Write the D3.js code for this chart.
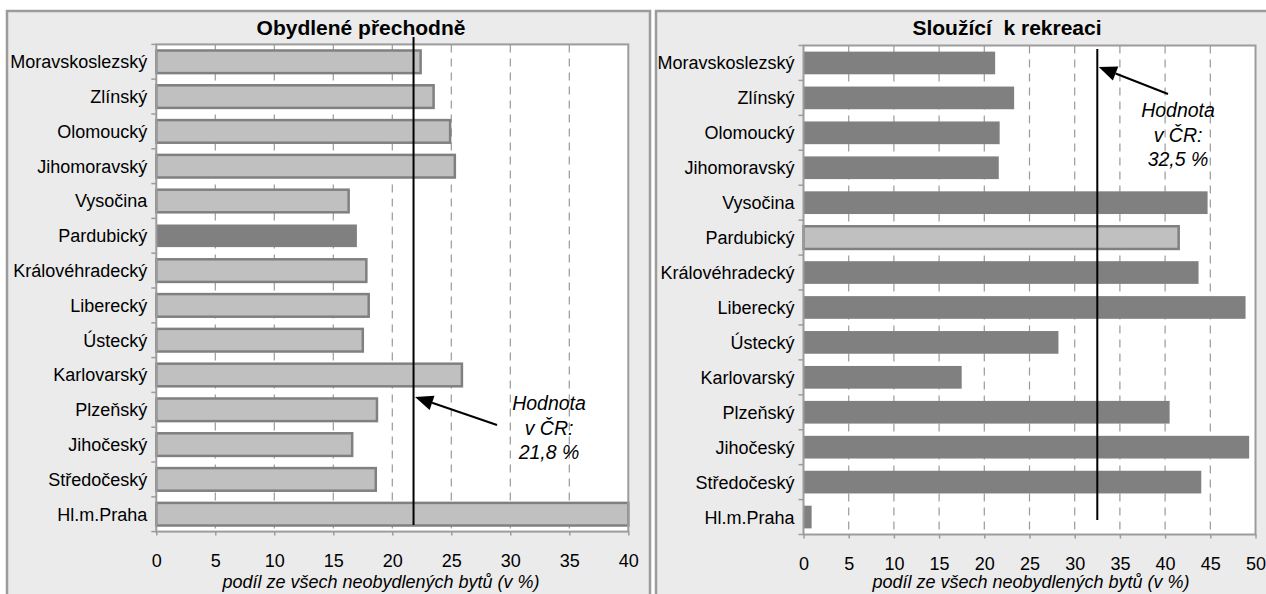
<!DOCTYPE html>
<html>
<head>
<meta charset="utf-8">
<script src="https://cdn.jsdelivr.net/npm/d3@7/dist/d3.min.js"></script>
<style>
  html, body { margin: 0; padding: 0; background: #fff; }
  svg { display: block; }
  text { font-family: "Liberation Sans", Arial, sans-serif; fill: #000; }
</style>
</head>
<body>
<svg id="chart" width="1266" height="594"></svg>
<script>
// Kraje (shora dolů)
const regions = [
  "Moravskoslezský", "Zlínský", "Olomoucký", "Jihomoravský", "Vysočina",
  "Pardubický", "Královéhradecký", "Liberecký", "Ústecký", "Karlovarský",
  "Plzeňský", "Jihočeský", "Středočeský", "Hl.m.Praha"
];

// Podíl ze všech neobydlených bytů (v %)
const obydlenePrechodne = [22.4, 23.5, 24.9, 25.3, 16.3, 17.0, 17.8, 18.0, 17.5, 25.9, 18.7, 16.6, 18.6, 40.0];
const slouziciRekreaci  = [21.2, 23.3, 21.7, 21.6, 44.7, 41.5, 43.7, 48.9, 28.2, 17.5, 40.5, 49.3, 44.0, 0.9];

// Hodnota za celou ČR
const hodnotaCR = [21.8, 32.5];

// Tick labels of the x axes
const ticksLeft  = [0, 5, 10, 15, 20, 25, 30, 35, 40];
const ticksRight = [0, 5, 10, 15, 20, 25, 30, 35, 40, 45, 50];

const titles = ["Obydlené přechodně", "Sloužící  k rekreaci"];
const axisTitle = "podíl ze všech neobydlených bytů (v %)";
const highlighted = "Pardubický";

const svg = d3.select("#chart");
const LIGHT = "#c0c0c0", DARK = "#808080", FRAME = "#9c9c9c", GRID = "#9a9a9a";

const fmt = v => v.toFixed(1).replace(".", ",") + " %";

function panel(o) {
  const g = svg.append("g");

  // panel background with frame
  g.append("rect")
    .attr("x", o.frame[0]).attr("y", 11)
    .attr("width", o.frame[1] - o.frame[0]).attr("height", 620)
    .attr("fill", "#ebebeb").attr("stroke", FRAME).attr("stroke-width", 2.5);

  const x = d3.scaleLinear().domain([0, o.ticks[o.ticks.length - 1]]).range(o.xr);
  const y = d3.scaleBand().domain(regions).range(o.yr).paddingInner(0.35).paddingOuter(0.175);

  // plot area
  g.append("rect")
    .attr("x", o.xr[0]).attr("y", o.yr[0])
    .attr("width", o.xr[1] - o.xr[0]).attr("height", o.yr[1] - o.yr[0])
    .attr("fill", "#fff");

  // dashed vertical gridlines
  g.append("g").selectAll("line")
    .data(o.ticks.slice(1, -1)).join("line")
    .attr("x1", d => x(d)).attr("x2", d => x(d))
    .attr("y1", o.yr[0]).attr("y2", o.yr[1])
    .attr("stroke", GRID).attr("stroke-width", 1.2)
    .attr("stroke-dasharray", "8,6");

  // bars
  g.append("g").selectAll("rect")
    .data(regions.map((r, i) => ({ r, v: o.values[i] }))).join("rect")
    .attr("x", x(0))
    .attr("y", d => y(d.r))
    .attr("width", d => x(d.v) - x(0))
    .attr("height", y.bandwidth())
    .attr("fill", d => (d.r === highlighted) === o.lightMain ? DARK : LIGHT)
    .attr("stroke", d => (d.r === highlighted) === o.lightMain ? "none" : DARK)
    .attr("stroke-width", 2.5);

  // plot frame
  g.append("rect")
    .attr("x", o.xr[0]).attr("y", o.yr[0])
    .attr("width", o.xr[1] - o.xr[0]).attr("height", o.yr[1] - o.yr[0])
    .attr("fill", "none").attr("stroke", FRAME).attr("stroke-width", 2);

  // y axis: category labels, tick marks at band edges
  const step = y.step();
  g.append("g").selectAll("line")
    .data(d3.range(regions.length + 1)).join("line")
    .attr("x1", o.xr[0] - 5).attr("x2", o.xr[0])
    .attr("y1", i => o.yr[0] + i * step).attr("y2", i => o.yr[0] + i * step)
    .attr("stroke", FRAME).attr("stroke-width", 1.5);

  g.append("g").selectAll("text")
    .data(regions).join("text")
    .attr("x", o.xr[0] - 9)
    .attr("y", d => y(d) + y.bandwidth() / 2)
    .attr("dy", "0.36em")
    .attr("text-anchor", "end")
    .attr("font-size", 18)
    .text(d => d);

  // x axis
  const xAxis = g.append("g")
    .attr("transform", `translate(0,${o.yr[1]})`)
    .call(d3.axisBottom(x).tickValues(o.ticks).tickSize(4).tickPadding(19).tickFormat(d3.format("d")));
  xAxis.select(".domain").remove();
  xAxis.selectAll("line").attr("stroke", FRAME).attr("stroke-width", 1.5);
  xAxis.selectAll("text").attr("font-size", 18)
    .attr("font-family", "Liberation Sans, Arial, sans-serif").attr("fill", "#000");

  g.append("text")
    .attr("x", o.axisTitleX).attr("y", 588)
    .attr("text-anchor", "middle").attr("font-size", 18).attr("font-style", "italic")
    .text(axisTitle);

  // title
  g.append("text")
    .attr("x", o.titleX).attr("y", 35)
    .attr("text-anchor", "middle").attr("font-size", 21).attr("font-weight", "bold")
    .style("white-space", "pre")
    .text(o.title);

  // national value line
  const xc = x(o.cr);
  g.append("line")
    .attr("x1", xc).attr("x2", xc)
    .attr("y1", o.lineY[0]).attr("y2", o.lineY[1])
    .attr("stroke", "#000").attr("stroke-width", 2);

  // arrow pointing at the line
  const tip = [xc + 1.5, o.arrowTipY];
  const tail = o.arrowTail;
  const ang = Math.atan2(tail[1] - tip[1], tail[0] - tip[0]);
  const L = 18, W = 7.5;
  const bx = tip[0] + L * Math.cos(ang), by = tip[1] + L * Math.sin(ang);
  g.append("line")
    .attr("x1", bx).attr("y1", by).attr("x2", tail[0]).attr("y2", tail[1])
    .attr("stroke", "#000").attr("stroke-width", 2);
  g.append("path")
    .attr("d", `M${tip[0]},${tip[1]}L${bx - W * Math.sin(ang)},${by + W * Math.cos(ang)}L${bx + W * Math.sin(ang)},${by - W * Math.cos(ang)}Z`)
    .attr("fill", "#000");

  // annotation text
  const lines = ["Hodnota", "v ČR:", fmt(o.cr)];
  g.append("g").selectAll("text")
    .data(lines).join("text")
    .attr("x", o.noteX)
    .attr("y", (d, i) => o.noteY + i * 24.5)
    .attr("text-anchor", "middle").attr("font-size", 19.5).attr("font-style", "italic")
    .text(d => d);
}

panel({
  frame: [7, 650], xr: [156.3, 628.3], yr: [44.4, 531.6],
  ticks: ticksLeft, values: obydlenePrechodne, lightMain: true,
  title: titles[0], titleX: 361, axisTitleX: 381,
  cr: hodnotaCR[0], lineY: [37, 525], arrowTipY: 397, arrowTail: [497, 425],
  noteX: 549, noteY: 410
});

panel({
  frame: [656, 1290], xr: [803.5, 1255.5], yr: [45.5, 534.5],
  ticks: ticksRight, values: slouziciRekreaci, lightMain: false,
  title: titles[1], titleX: 1007, axisTitleX: 1031,
  cr: hodnotaCR[1], lineY: [49, 520], arrowTipY: 67, arrowTail: [1168, 94],
  noteX: 1178, noteY: 117
});
</script>
</body>
</html>
